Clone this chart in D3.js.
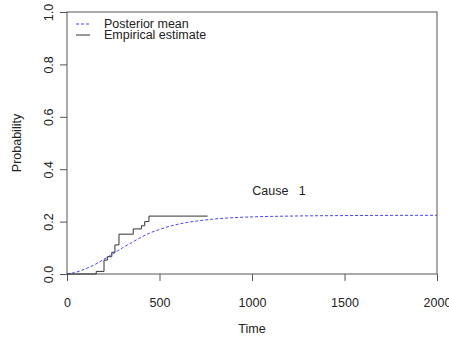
<!DOCTYPE html>
<html>
<head>
<meta charset="utf-8">
<script src="https://cdn.jsdelivr.net/npm/d3@7"></script>
<style>
  body { margin: 0; background: #fff; }
  text { font-family: "Liberation Sans", Arial, sans-serif; fill: #222; }
</style>
</head>
<body>
<div class="chart"></div>
<script>
// empirical (step) estimate
var empTime = [0, 158, 200, 218, 242, 259, 281, 358, 402, 420, 443, 760];
var empProb = [0, 0.010, 0.053, 0.066, 0.083, 0.111, 0.152, 0.172, 0.184, 0.200, 0.221, 0.221];

// posterior mean curve
var postTime = [0, 50, 100, 150, 200, 250, 300, 350, 400, 450, 500, 600, 700, 800, 900, 1000, 1200, 1500, 2000];
var postProb = [0, 0.007, 0.020, 0.036, 0.056, 0.078, 0.100, 0.120, 0.140, 0.157, 0.170, 0.190, 0.202, 0.210, 0.215, 0.218, 0.221, 0.223, 0.224];

var xTicks = [0, 500, 1000, 1500, 2000];
var yTicks = [0, 0.2, 0.4, 0.6, 0.8, 1.0];
var legendLabels = ["Posterior mean", "Empirical estimate"];

var svgWidth = 449, svgHeight = 343;
var margin = { top: 12, right: 12, bottom: 69, left: 67 };
var width = svgWidth - margin.left - margin.right;
var height = svgHeight - margin.top - margin.bottom;

var svg = d3.select(".chart")
  .append("svg")
  .attr("width", svgWidth)
  .attr("height", svgHeight);

var chartGroup = svg.append("g")
  .attr("transform", `translate(${margin.left}, ${margin.top})`);

var x = d3.scaleLinear().domain([0, 2000]).range([0, width]);
var y = d3.scaleLinear().domain([0, 1]).range([height, 0]);

// axes, R style
var bottomAxis = d3.axisBottom(x).tickValues(xTicks).tickSize(7).tickPadding(17).tickFormat(d3.format("d"));
var leftAxis = d3.axisLeft(y).tickValues(yTicks).tickSize(7).tickFormat(d3.format(".1f"));

var xg = chartGroup.append("g")
  .attr("transform", `translate(0, ${height})`)
  .call(bottomAxis);
xg.select(".domain").remove();
xg.selectAll("line").attr("stroke", "#555");
xg.selectAll("text").style("font-size", "12.5px").attr("fill", "#222");

var yg = chartGroup.append("g").call(leftAxis);
yg.select(".domain").remove();
yg.selectAll("line").attr("stroke", "#555");
yg.selectAll("text")
  .style("font-size", "12.5px")
  .attr("fill", "#222")
  .attr("x", null).attr("dy", null)
  .attr("text-anchor", "middle")
  .attr("transform", "translate(-14, 0) rotate(-90)");

// box
chartGroup.append("rect")
  .attr("width", width).attr("height", height)
  .attr("fill", "none").attr("stroke", "#555");

// posterior mean
var postData = postTime.map((t, i) => ({ t: t, p: postProb[i] }));
chartGroup.append("path")
  .datum(postData)
  .attr("fill", "none")
  .attr("stroke", "#4444ff")
  .attr("stroke-dasharray", "3,2")
  .attr("d", d3.line().x(d => x(d.t)).y(d => y(d.p)).curve(d3.curveMonotoneX));

// empirical estimate
var empData = empTime.map((t, i) => ({ t: t, p: empProb[i] }));
chartGroup.append("path")
  .datum(empData)
  .attr("fill", "none")
  .attr("stroke", "#333")
  .attr("d", d3.line().x(d => x(d.t)).y(d => y(d.p)).curve(d3.curveStepAfter));

// legend
var legend = chartGroup.append("g").attr("transform", "translate(9, 12)");
legendLabels.forEach(function (lab, i) {
  var row = legend.append("g").attr("transform", `translate(0, ${i * 11})`);
  row.append("line")
    .attr("x1", 0).attr("x2", 14)
    .attr("stroke", i === 0 ? "#4444ff" : "#333")
    .attr("stroke-dasharray", i === 0 ? "3,2" : null);
  row.append("text")
    .attr("x", 28).attr("y", 4)
    .style("font-size", "12.5px")
    .text(lab);
});

// annotation
chartGroup.append("text")
  .attr("x", x(1146)).attr("y", 195 - margin.top)
  .attr("text-anchor", "middle")
  .style("font-size", "12.5px")
  .style("white-space", "pre")
  .text("Cause   1");

// axis labels
svg.append("text")
  .attr("x", margin.left + width / 2).attr("y", 333)
  .attr("text-anchor", "middle")
  .style("font-size", "12.5px")
  .text("Time");

svg.append("text")
  .attr("transform", `translate(21, ${margin.top + height / 2}) rotate(-90)`)
  .attr("text-anchor", "middle")
  .style("font-size", "12.5px")
  .text("Probability");
</script>
</body>
</html>
